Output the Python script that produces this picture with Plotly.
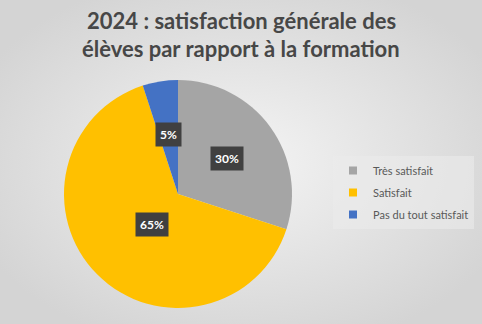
import math, base64
import plotly.graph_objects as go

labels = ["Très satisfait", "Satisfait", "Pas du tout satisfait"]
values = [30, 65, 5]
colors = ["#A5A5A5", "#FFC000", "#4472C4"]
title_lines = ["2024 : satisfaction générale des", "élèves par rapport à la formation"]

W, H = 482, 324
cx, cy, r = 178, 194, 114  # pie center/radius in px (from top)
dom_x = [(cx - r) / W, (cx + r) / W]
dom_y = [(H - cy - r) / H, (H - cy + r) / H]

fig = go.Figure(go.Pie(
    labels=labels, values=values, sort=False, direction="clockwise", rotation=0,
    marker=dict(colors=colors, line=dict(width=0)),
    textinfo="none", hoverinfo="label+percent", showlegend=False,
    domain=dict(x=dom_x, y=dom_y),
))

# legend entries (one group each to control spacing)
for lab, col in zip(labels, colors):
    fig.add_trace(go.Scatter(
        x=[None], y=[None], mode="markers", name=lab, legendgroup=lab,
        marker=dict(symbol="square", size=8, color=col), showlegend=True,
    ))

# data labels placed along each slice's mid-angle
total = sum(values)
cum = 0
for v in values:
    mid = (cum + v / 2) / total * 2 * math.pi
    cum += v
    px = cx + 0.53 * r * math.sin(mid)
    py = cy - 0.53 * r * math.cos(mid)
    fig.add_annotation(
        x=px / W, y=1 - py / H, xref="paper", yref="paper",
        text=f"<b>{round(v / total * 100)}%</b>", showarrow=False,
        font=dict(family="Lato, sans-serif", size=12, color="white"),
        bgcolor="#404040", borderpad=4,
    )

for i, line in enumerate(title_lines):
    fig.add_annotation(
        x=0.5, y=1 - (20 + 28 * i) / H, xref="paper", yref="paper",
        xanchor="center", yanchor="middle", showarrow=False,
        text=f"<b>{line}</b>",
        font=dict(family="Lato, sans-serif", size=22, color="#474747"),
    )

svg = f'''<svg xmlns="http://www.w3.org/2000/svg" width="{W}" height="{H}" preserveAspectRatio="none">
<defs><radialGradient id="g" cx="50%" cy="50%" r="60%">
<stop offset="0%" stop-color="#F4F4F4"/><stop offset="100%" stop-color="#D4D4D4"/>
</radialGradient></defs><rect width="{W}" height="{H}" fill="url(#g)"/></svg>'''
src = "data:image/svg+xml;base64," + base64.b64encode(svg.encode()).decode()

fig.update_layout(
    width=W, height=H, margin=dict(l=0, r=0, t=0, b=0, autoexpand=False),
    paper_bgcolor="#E4E4E4", plot_bgcolor="rgba(0,0,0,0)",
    xaxis=dict(visible=False), yaxis=dict(visible=False),
    images=[dict(source=src, xref="paper", yref="paper", x=0, y=1, sizex=1, sizey=1,
                 sizing="stretch", layer="below", xanchor="left", yanchor="top")],
    legend=dict(x=333 / W, y=1 - 156 / H, xanchor="left", yanchor="top",
                font=dict(family="Lato, sans-serif", size=11, color="#595959"),
                bgcolor="rgba(235,235,235,0.6)", itemwidth=30, tracegroupgap=3,
                itemclick=False, itemdoubleclick=False),
    showlegend=True,
)
fig.write_html("out.html")
